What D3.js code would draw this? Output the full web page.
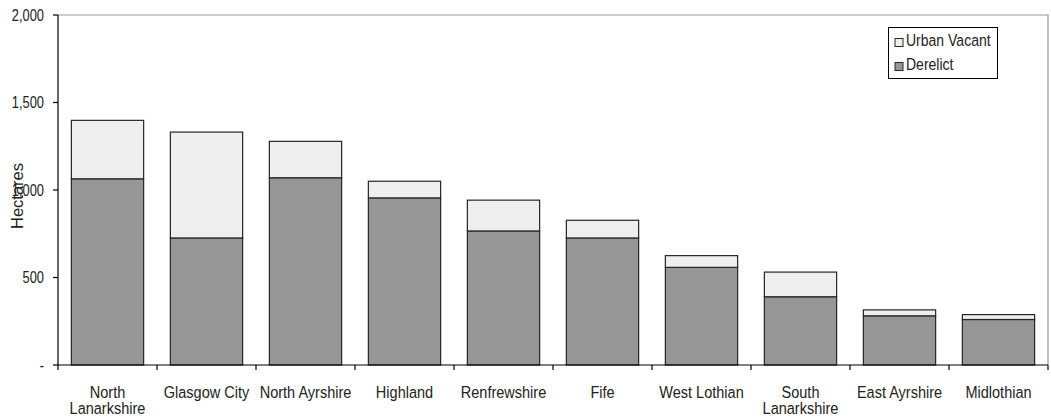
<!DOCTYPE html>
<html>
<head>
<meta charset="utf-8">
<script src="https://cdn.jsdelivr.net/npm/d3@7"></script>
<style>
  html, body { margin: 0; padding: 0; background: #fff; }
  svg { display: block; font-family: "Liberation Sans", Arial, sans-serif; }
</style>
</head>
<body>
<svg id="chart" width="1051" height="419"></svg>
<script>
// Land area by council, in hectares
const categories = ["North Lanarkshire", "Glasgow City", "North Ayrshire", "Highland", "Renfrewshire",
                    "Fife", "West Lothian", "South Lanarkshire", "East Ayrshire", "Midlothian"];
const categoryLabels = [["North", "Lanarkshire"], ["Glasgow City"], ["North Ayrshire"], ["Highland"],
                        ["Renfrewshire"], ["Fife"], ["West Lothian"], ["South", "Lanarkshire"],
                        ["East Ayrshire"], ["Midlothian"]];
const derelict    = [1064, 726, 1070, 955, 766, 726, 558, 390, 281, 260];
const urbanVacant = [334, 605, 208, 95, 176, 101, 67, 141, 34, 28];
const yTicks      = [0, 500, 1000, 1500, 2000];
const yTickLabels = ["-", "500", "1,000", "1,500", "2,000"];
const seriesNames = ["Derelict", "Urban Vacant"];

const colors = { "Derelict": "#969696", "Urban Vacant": "#eeeeee" };

const svg = d3.select("#chart");
const plotLeft = 58, plotRight = 1048, plotTop = 15, plotBottom = 365;

const x = d3.scaleBand().domain(categories).range([plotLeft, plotRight])
  .paddingInner(0.27).paddingOuter(0.135);
const y = d3.scaleLinear().domain([0, 2000]).range([plotBottom, plotTop]);

// plot area frame (top and right sides)
svg.append("path")
  .attr("d", `M${plotLeft},${y(2000)}H${plotRight}V${y(0)}`)
  .attr("fill", "none").attr("stroke", "#9a9a9a").attr("stroke-width", 1.2);

// stacked bars
const rows = categories.map((c, i) => ({ cat: c, "Derelict": derelict[i], "Urban Vacant": urbanVacant[i] }));
const stacked = d3.stack().keys(seriesNames)(rows);

svg.append("g").selectAll("g").data(stacked).join("g")
  .attr("fill", d => colors[d.key])
  .selectAll("rect").data(d => d).join("rect")
  .attr("x", d => x(d.data.cat))
  .attr("width", x.bandwidth())
  .attr("y", d => y(d[1]))
  .attr("height", d => y(d[0]) - y(d[1]))
  .attr("stroke", "#262626").attr("stroke-width", 1.2);

// y axis
const yAxis = svg.append("g");
yAxis.append("line").attr("x1", plotLeft).attr("x2", plotLeft).attr("y1", y(2000)).attr("y2", y(0))
  .attr("stroke", "#000").attr("stroke-width", 1.2);
yTicks.forEach((t, i) => {
  yAxis.append("line").attr("x1", plotLeft - 5).attr("x2", plotLeft).attr("y1", y(t)).attr("y2", y(t))
    .attr("stroke", "#000").attr("stroke-width", 1.2);
  yAxis.append("g").attr("transform", `translate(44,${y(t)})`)
    .append("text").attr("transform", "scale(0.78,1)")
    .attr("text-anchor", "end").attr("dy", "0.35em")
    .attr("font-size", 16.5).attr("fill", "#222").text(yTickLabels[i]);
});

// x axis
const xAxis = svg.append("g");
xAxis.append("line").attr("x1", plotLeft).attr("x2", plotRight).attr("y1", y(0)).attr("y2", y(0))
  .attr("stroke", "#000").attr("stroke-width", 1.2);
for (let i = 0; i <= categories.length; i++) {
  const tx = plotLeft + i * x.step();
  xAxis.append("line").attr("x1", tx).attr("x2", tx).attr("y1", y(0)).attr("y2", y(0) + 5)
    .attr("stroke", "#000").attr("stroke-width", 1.2);
}
categories.forEach((c, i) => {
  const cx = x(c) + x.bandwidth() / 2;
  categoryLabels[i].forEach((line, j) => {
    xAxis.append("g").attr("transform", `translate(${cx},${397.5 + j * 16})`)
      .append("text").attr("transform", "scale(0.88,1)")
      .attr("text-anchor", "middle").attr("font-size", 16.5).attr("fill", "#222").text(line);
  });
});

// y axis title
svg.append("text")
  .attr("transform", `translate(23,196) rotate(-90)`)
  .attr("text-anchor", "middle").attr("font-size", 16.5).attr("fill", "#222")
  .text("Hectares");

// legend
const legend = svg.append("g");
legend.append("rect").attr("x", 888.5).attr("y", 27.5).attr("width", 109).attr("height", 51)
  .attr("fill", "#fff").attr("stroke", "#000").attr("stroke-width", 1);
["Urban Vacant", "Derelict"].forEach((name, i) => {
  const ly = 46 + i * 24;
  legend.append("rect").attr("x", 895).attr("y", ly - 7.5).attr("width", 8).attr("height", 8)
    .attr("fill", colors[name]).attr("stroke", "#262626").attr("stroke-width", 1);
  legend.append("g").attr("transform", `translate(906,${ly})`)
    .append("text").attr("transform", "scale(0.85,1)")
    .attr("font-size", 16.5).attr("fill", "#222").text(name);
});
</script>
</body>
</html>
